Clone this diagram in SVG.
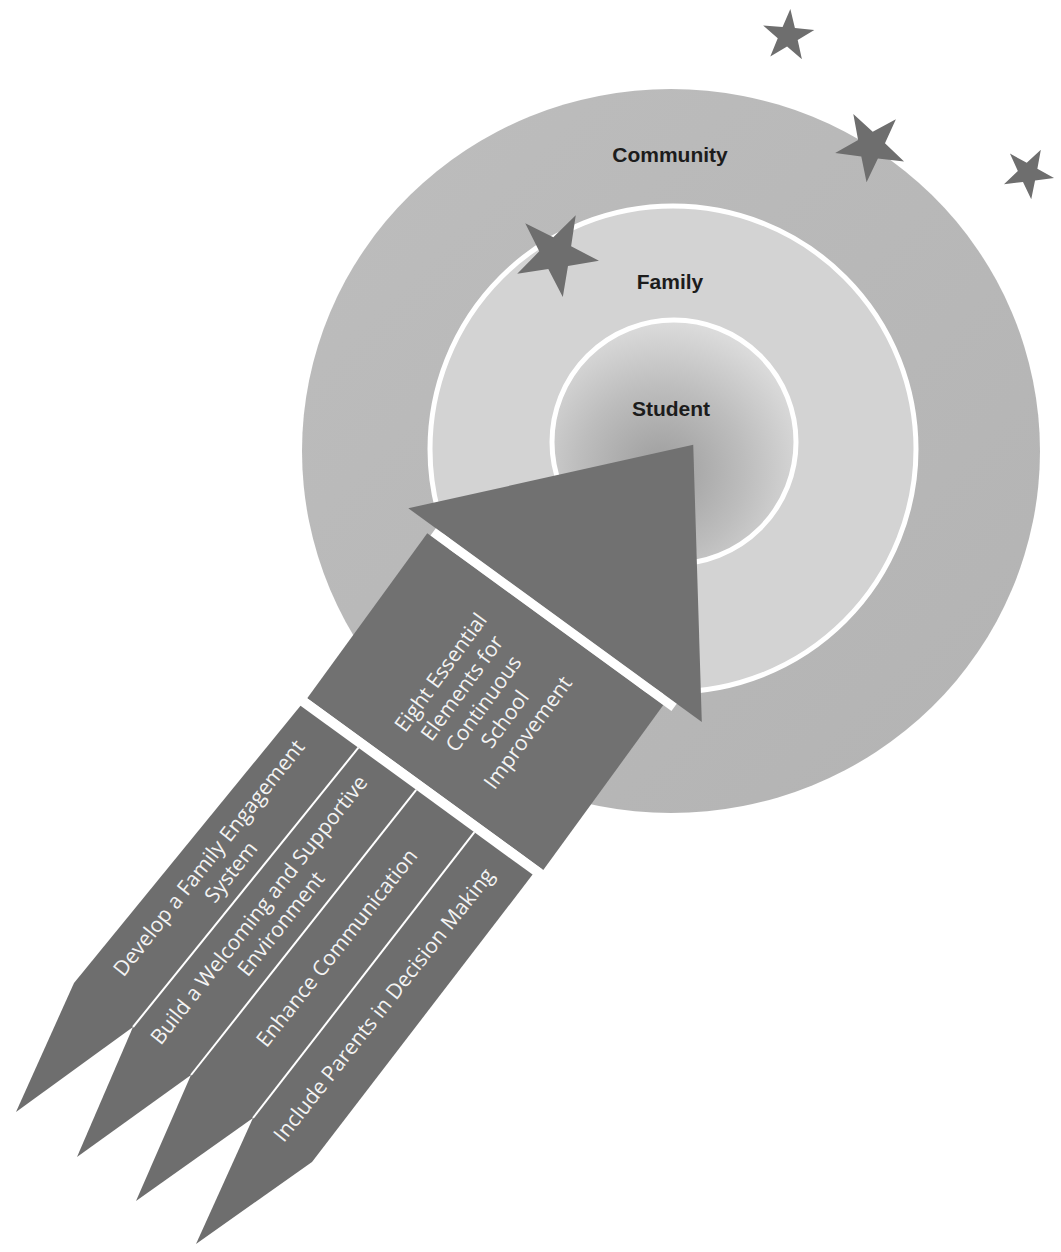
<svg xmlns="http://www.w3.org/2000/svg" xmlns:xlink="http://www.w3.org/1999/xlink" width="1061" height="1252" viewBox="0 0 1061 1252">
  <defs>
    <radialGradient id="gStudent" cx="0.45" cy="0.62" r="0.62">
      <stop offset="0" stop-color="#9c9c9c"/>
      <stop offset="0.55" stop-color="#bdbdbd"/>
      <stop offset="1" stop-color="#dcdcdc"/>
    </radialGradient>
    <linearGradient id="gOuter" x1="0" y1="0" x2="1" y2="1">
      <stop offset="0" stop-color="#bdbdbd"/>
      <stop offset="1" stop-color="#b3b3b3"/>
    </linearGradient>
    <path id="star" d="M0,-10 L2.292,-3.155 L9.511,-3.09 L3.709,1.205 L5.878,8.09 L0,3.9 L-5.878,8.09 L-3.709,1.205 L-9.511,-3.09 L-2.292,-3.155 Z"/>
    <style>
      .ring-label { font-family: "Liberation Sans", Arial, sans-serif; font-weight: bold; font-size: 21px; fill: #1c1c1c; text-anchor: middle; }
      .arrow-label { font-family: "Open Sans", "Liberation Sans", sans-serif; font-size: 21px; fill: #f3f3f3; text-anchor: middle; }
      .strip-label { font-family: "Open Sans", "Liberation Sans", sans-serif; font-size: 21px; fill: #f3f3f3; text-anchor: middle; }
      .arrow-fill { fill: #717171; }
      .strip-fill { fill: #6e6e6e; }
      .star { fill: #6e6e6e; }
      .divider { stroke: #ffffff; stroke-width: 2; fill: none; }
    </style>
  </defs>

  <rect x="0" y="0" width="1061" height="1252" fill="#ffffff"/>

  <g id="ring-community">
    <ellipse cx="671" cy="451" rx="369" ry="362" fill="url(#gOuter)"/>
    <text class="ring-label" x="670" y="162">Community</text>
  </g>
  <g id="ring-family">
    <circle cx="673" cy="449" r="243" fill="#d3d3d3" stroke="#ffffff" stroke-width="5"/>
    <text class="ring-label" x="670" y="289">Family</text>
  </g>
  <g id="ring-student">
    <circle cx="674" cy="442" r="122" fill="url(#gStudent)" stroke="#ffffff" stroke-width="5"/>
    <text class="ring-label" x="671" y="416">Student</text>
  </g>

  <g id="stars">
    <use xlink:href="#star" class="star" transform="translate(788,36) rotate(5) scale(2.7)"/>
    <use xlink:href="#star" class="star" transform="translate(871,146) rotate(-29) scale(3.65)"/>
    <use xlink:href="#star" class="star" transform="translate(1028,173) rotate(29) scale(2.65)"/>
    <use xlink:href="#star" class="star" transform="translate(556,254) rotate(27) scale(4.35)"/>
  </g>

  <g transform="translate(408.3,508.3) rotate(36.05)">
    <g id="arrow-head">
      <polygon class="arrow-fill" points="0,0 363,0 193,-219"/>
    </g>
    <g id="node-eight-essential">
      <rect class="arrow-fill" x="30" y="9" width="292" height="204"/>
      <text class="arrow-label" transform="rotate(-90)">
        <tspan x="-111" y="130">Eight Essential</tspan>
        <tspan x="-111" y="156.5">Elements for</tspan>
        <tspan x="-111" y="183">Continuous</tspan>
        <tspan x="-111" y="209.5">School</tspan>
        <tspan x="-111" y="236">Improvement</tspan>
      </text>
    </g>
    <g id="bands">
      <rect x="34" y="0" width="298" height="9" fill="#ffffff"/>
      <rect x="27" y="213" width="294" height="9" fill="#ffffff"/>
    </g>
  </g>

  <g id="strip-family-engagement">
    <polygon class="strip-fill" points="300.5,705.7 358.4,747.7 133,1027 16,1112 74,983"/>
    <text class="strip-label" transform="translate(221,864) rotate(-51.7)">
      <tspan x="0" y="-6">Develop a Family Engagement</tspan>
      <tspan x="0" y="20">System</tspan>
    </text>
  </g>
  <g id="strip-welcoming">
    <polygon class="strip-fill" points="358.4,747.7 416.2,789.8 191,1075 77,1157 133,1027"/>
    <text class="strip-label" transform="translate(271,916) rotate(-51.7)">
      <tspan x="0" y="-6">Build a Welcoming and Supportive</tspan>
      <tspan x="0" y="20">Environment</tspan>
    </text>
  </g>
  <g id="strip-communication">
    <polygon class="strip-fill" points="416.2,789.8 474.4,832.2 253,1118 136,1201 191,1075"/>
    <text class="strip-label" transform="translate(337,948) rotate(-51.7)">
      <tspan x="0" y="7">Enhance Communication</tspan>
    </text>
  </g>
  <g id="strip-decision-making">
    <polygon class="strip-fill" points="474.4,832.2 532.6,874.6 312,1162 196,1244 253,1118"/>
    <text class="strip-label" transform="translate(384,1005) rotate(-51.7)">
      <tspan x="0" y="7">Include Parents in Decision Making</tspan>
    </text>
  </g>

  <g id="connectors">
    <line class="divider" x1="358.4" y1="747.7" x2="133" y2="1027"/>
    <line class="divider" x1="416.2" y1="789.8" x2="191" y2="1075"/>
    <line class="divider" x1="474.4" y1="832.2" x2="253" y2="1118"/>
  </g>
</svg>
